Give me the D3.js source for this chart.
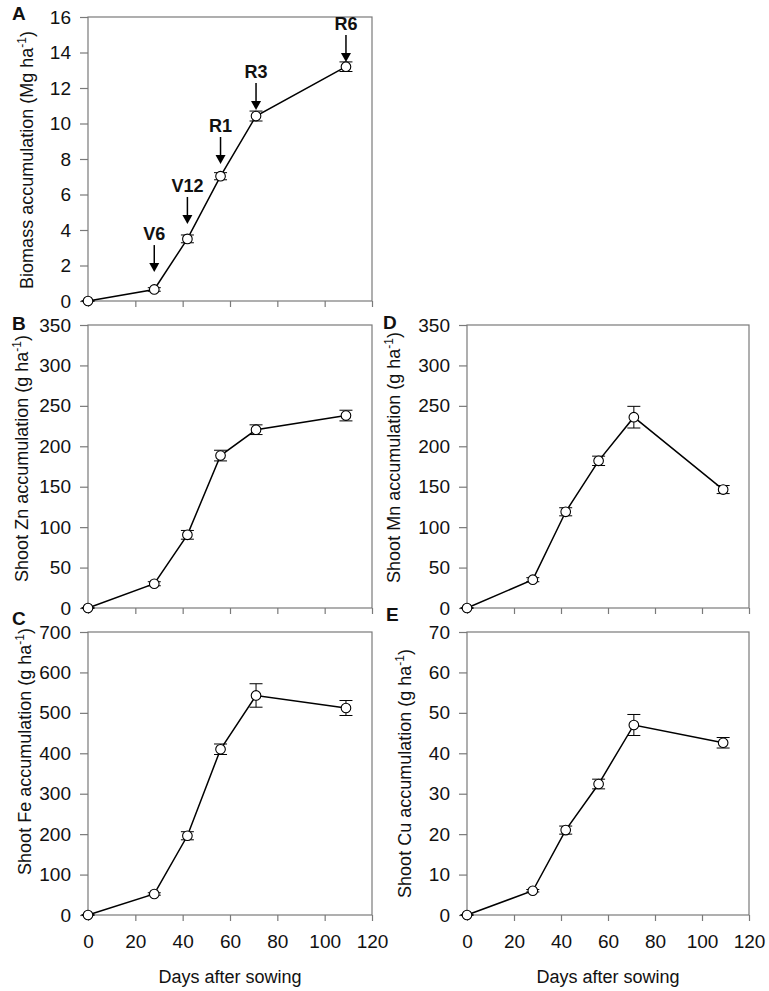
<!DOCTYPE html>
<html>
<head>
<meta charset="utf-8">
<script src="https://cdn.jsdelivr.net/npm/d3@7"></script>
<style>
  body { margin: 0; background: #fff; }
  svg text { font-family: "Liberation Sans", Arial, sans-serif; fill: #111; }
</style>
</head>
<body>
<svg id="fig" width="769" height="991"></svg>
<script>
// sampling days
const days = [0, 28, 42, 56, 71, 109];

// panel values (mean, +/- error)
const biomass    = [0, 0.65, 3.5, 7.03, 10.42, 13.2];
const biomassErr = [0.02, 0.1, 0.22, 0.2, 0.28, 0.27];
const zn    = [0, 30, 90.5, 188.5, 220.5, 238];
const znErr = [0.5, 2.5, 5.4, 6.6, 6, 6.6];
const fe    = [0, 52, 196, 410, 543, 512];
const feErr = [1, 3, 10, 13, 29, 18.5];
const mn    = [0, 35, 119, 182, 236, 146.5];
const mnErr = [0.5, 2.5, 5, 5.8, 13.4, 5];
const cu    = [0, 6, 21, 32.4, 47, 42.6];
const cuErr = [0.1, 0.3, 1.0, 1.2, 2.6, 1.3];

// growth stages marked in panel A
const stages = ["V6", "V12", "R1", "R3", "R6"];
const stageDays = [28, 42, 56, 71, 109];
const stageTip = [1.63, 4.34, 7.72, 10.76, 13.46];

const xTicks = [0, 20, 40, 60, 80, 100, 120];

const svg = d3.select("#fig");
const frameColor = "#7a7a7a";

// layout of the five panels
const cols = [[88, 372], [467, 749]];
const rows = [[17, 301], [325, 608], [632, 915]];

const panels = [
  {key: "A", col: 0, row: 0, values: biomass, errs: biomassErr, max: 16, step: 2,
   title: "Biomass accumulation (Mg ha", titleX: 32.5, titleDy: 1, letter: [12, 20], xlabels: false},
  {key: "B", col: 0, row: 1, values: zn, errs: znErr, max: 350, step: 50,
   title: "Shoot Zn accumulation (g ha", titleX: 28, titleDy: -8, letter: [12, 330], xlabels: false},
  {key: "C", col: 0, row: 2, values: fe, errs: feErr, max: 700, step: 100,
   title: "Shoot Fe accumulation (g ha", titleX: 31, titleDy: -22, letter: [12, 625], xlabels: true},
  {key: "D", col: 1, row: 1, values: mn, errs: mnErr, max: 350, step: 50,
   title: "Shoot Mn accumulation (g ha", titleX: 400, titleDy: -9, letter: [383, 329], xlabels: false},
  {key: "E", col: 1, row: 2, values: cu, errs: cuErr, max: 70, step: 10,
   title: "Shoot Cu accumulation (g ha", titleX: 411, titleDy: 0, letter: [386, 621], xlabels: true}
];

panels.forEach(p => {
  const [x0, x1] = cols[p.col];
  const [y0, y1] = rows[p.row];
  const x = d3.scaleLinear().domain([0, 120]).range([x0, x1]);
  const y = d3.scaleLinear().domain([0, p.max]).range([y1, y0]);
  const g = svg.append("g");

  // axes
  const yAxis = d3.axisLeft(y)
    .tickValues(d3.range(0, p.max + p.step / 2, p.step))
    .tickSize(8).tickPadding(9)
    .tickFormat(d3.format("d"));
  const ya = g.append("g").attr("transform", `translate(${x0},0)`).call(yAxis);

  const xAxis = d3.axisBottom(x)
    .tickValues(xTicks)
    .tickSize(6).tickPadding(14)
    .tickFormat(p.xlabels ? d3.format("d") : "");
  const xa = g.append("g").attr("transform", `translate(0,${y1})`).call(xAxis);

  [ya, xa].forEach(a => {
    a.attr("font-size", 19).attr("font-family", null);
    a.select(".domain").remove();
    a.selectAll(".tick line").attr("stroke", frameColor).attr("stroke-width", 1.2);
    a.selectAll(".tick text").style("font-size", "19px").attr("fill", "#111");
  });

  g.append("rect")
    .attr("x", x0).attr("y", y0)
    .attr("width", x1 - x0).attr("height", y1 - y0)
    .attr("fill", "none").attr("stroke", frameColor).attr("stroke-width", 1.2);

  // y title
  const t = g.append("text")
    .attr("transform", `translate(${p.titleX},${(y0 + y1) / 2 + p.titleDy}) rotate(-90)`)
    .attr("text-anchor", "middle")
    .style("font-size", "18px");
  t.append("tspan").text(p.title);
  t.append("tspan").attr("dy", -7).style("font-size", "12px").text("-1");
  t.append("tspan").attr("dy", 7).text(")");

  // panel letter
  g.append("text")
    .attr("x", p.letter[0]).attr("y", p.letter[1])
    .style("font-size", "19px").style("font-weight", "bold")
    .text(p.key);

  const pts = days.map((d, i) => ({d, v: p.values[i], e: p.errs[i]}));

  // line
  g.append("path")
    .datum(pts)
    .attr("fill", "none").attr("stroke", "#000").attr("stroke-width", 1.5)
    .attr("d", d3.line().x(q => x(q.d)).y(q => y(q.v)));

  // error bars
  const eb = g.append("g").attr("stroke", "#000").attr("stroke-width", 1);
  pts.forEach(q => {
    const cx = x(q.d), ty = y(q.v + q.e), by = y(q.v - q.e);
    eb.append("line").attr("x1", cx).attr("x2", cx).attr("y1", ty).attr("y2", by);
    eb.append("line").attr("x1", cx - 6.5).attr("x2", cx + 6.5).attr("y1", ty).attr("y2", ty);
    eb.append("line").attr("x1", cx - 6.5).attr("x2", cx + 6.5).attr("y1", by).attr("y2", by);
  });

  // markers
  g.selectAll("circle.pt").data(pts).join("circle")
    .attr("class", "pt")
    .attr("cx", q => x(q.d)).attr("cy", q => y(q.v))
    .attr("r", 4.8)
    .attr("fill", "#fff").attr("stroke", "#000").attr("stroke-width", 1.1);

  // stage arrows (panel A only)
  if (p.key === "A") {
    stages.forEach((s, i) => {
      const ax = x(stageDays[i]);
      const tip = y(stageTip[i]);
      const len = 27, head = 9, hw = 5;
      g.append("line")
        .attr("x1", ax).attr("x2", ax)
        .attr("y1", tip - len).attr("y2", tip - head + 1)
        .attr("stroke", "#000").attr("stroke-width", 1.5);
      g.append("path")
        .attr("d", `M${ax - hw},${tip - head} L${ax + hw},${tip - head} L${ax},${tip} Z`)
        .attr("fill", "#000");
      g.append("text")
        .attr("x", ax).attr("y", tip - len - 5)
        .attr("text-anchor", "middle")
        .style("font-size", "18px").style("font-weight", "bold")
        .text(s);
    });
  }

  // x title under bottom row
  if (p.xlabels) {
    g.append("text")
      .attr("x", (x0 + x1) / 2).attr("y", 983)
      .attr("text-anchor", "middle")
      .style("font-size", "18px")
      .text("Days after sowing");
  }
});
</script>
</body>
</html>
